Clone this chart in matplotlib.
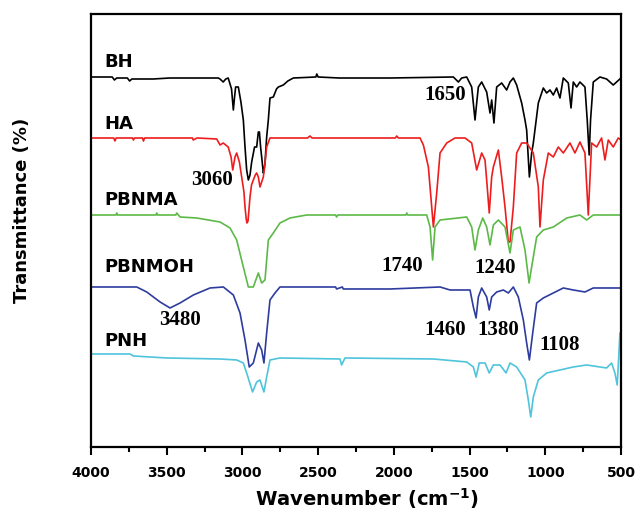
"""FTIR spectra of BH, HA, PBNMA, PBNMOH and PNH, stacked with offsets.

Writes out.png.
"""
import matplotlib
import matplotlib.pyplot as plt
import numpy as np

matplotlib.use("Agg")

# Wavenumber (cm-1) / transmittance (arb. units, stacked) pairs for each spectrum
BH_WN = [4000, 3860, 3845, 3830, 3760, 3745, 3730, 3590, 3480, 3160, 3148, 3127, 3110, 3094,
         3080, 3072, 3060, 3052, 3045, 3027, 3010, 2994, 2983, 2972, 2961, 2950, 2939, 2920,
         2906, 2895, 2888, 2880, 2873, 2862, 2856, 2851, 2840, 2829, 2818, 2796, 2775, 2763,
         2730, 2700, 2664, 2515, 2509, 2500, 2360, 2025, 1607, 1574, 1552, 1519, 1486, 1464,
         1453, 1442, 1420, 1387, 1365, 1354, 1339, 1321, 1288, 1255, 1233, 1211, 1189, 1156,
         1134, 1123, 1105, 1090, 1079, 1046, 1013, 991, 969, 947, 925, 903, 881, 848, 830,
         815, 793, 771, 738, 723, 710, 701, 683, 639, 595, 551, 500]
BH_T = [370, 370, 367, 369, 369, 366, 368, 368, 369, 369, 368, 365, 368, 369,
        362, 358, 337, 350, 360, 360, 345, 327, 300, 277, 267, 272, 285, 300,
        300, 315, 315, 300, 290, 274, 278, 284, 310, 327, 349, 350, 358, 360,
        362, 366, 369, 370, 373, 370, 369, 369, 370, 365, 369, 370, 360, 327,
        344, 360, 365, 355, 334, 347, 324, 360, 364, 357, 365, 369, 362, 344,
        327, 317, 270, 294, 304, 344, 359, 354, 357, 352, 359, 349, 369, 364, 339,
        365, 360, 365, 360, 327, 292, 327, 365, 370, 368, 362, 369]

HA_WN = [4000, 3850, 3842, 3834, 3725, 3720, 3712, 3660, 3654, 3646, 3330, 3325, 3300, 3170,
         3148, 3127, 3094, 3075, 3064, 3049, 3038, 3020, 3005, 2990, 2983, 2975, 2970, 2963,
         2950, 2940, 2928, 2915, 2906, 2895, 2884, 2875, 2862, 2850, 2840, 2818, 2570, 2554,
         2540, 1990, 1981, 1970, 1827, 1805, 1772, 1750, 1739, 1717, 1695, 1651, 1596, 1530,
         1486, 1453, 1420, 1398, 1387, 1370, 1354, 1343, 1310, 1288, 1266, 1244, 1233, 1211,
         1189, 1156, 1123, 1079, 1046, 1035, 1013, 980, 947, 914, 881, 837, 804, 771, 738,
         716, 694, 661, 628, 606, 584, 551, 518, 500]
HA_T = [309, 309, 306, 309, 309, 307, 309, 309, 306, 309, 309, 307, 309, 308,
        302, 304, 300, 290, 277, 290, 294, 285, 270, 255, 240, 228, 224, 226,
        250, 262, 267, 272, 274, 270, 260, 264, 270, 285, 300, 309, 309, 311,
        309, 309, 311, 309, 309, 302, 280, 240, 220, 254, 294, 304, 309, 309,
        304, 277, 294, 287, 267, 234, 270, 280, 297, 270, 240, 205, 205, 240,
        294, 304, 304, 294, 260, 220, 267, 294, 290, 300, 294, 304, 294, 305, 294,
        232, 304, 300, 309, 287, 307, 300, 309, 307]

PBNMA_WN = [4000, 3835, 3830, 3825, 3570, 3566, 3560, 3440, 3434, 3412, 3302, 3148, 3082,
            3038, 2994, 2961, 2928, 2895, 2873, 2851, 2829, 2796, 2752, 2686, 2576, 2385,
            2378, 2370, 1920, 1915, 1908, 1783, 1761, 1744, 1728, 1695, 1519, 1486, 1464,
            1442, 1413, 1387, 1365, 1343, 1310, 1266, 1233, 1211, 1167, 1134, 1107, 1090,
            1057, 1013, 947, 858, 771, 727, 683, 500]
PBNMA_T = [232, 232, 234, 232, 232, 234, 232, 232, 234, 230, 229, 225, 219,
           207, 180, 160, 160, 174, 164, 167, 207, 214, 224, 229, 232, 232,
           230, 232, 232, 234, 232, 232, 220, 187, 220, 227, 230, 220, 197,
           217, 229, 220, 202, 222, 227, 220, 194, 217, 220, 197, 164, 180,
           210, 217, 220, 229, 232, 227, 232, 232]

PBNMOH_WN = [4000, 3698, 3632, 3544, 3478, 3412, 3324, 3214, 3126, 3060, 3016, 2983, 2955,
             2928, 2895, 2873, 2858, 2840, 2818, 2785, 2752, 2385, 2378, 2340, 2334, 2025,
             1695, 1629, 1497, 1475, 1457, 1442, 1420, 1387, 1370, 1354, 1321, 1277, 1244,
             1211, 1178, 1145, 1123, 1105, 1083, 1057, 1013, 947, 881, 815, 738, 683, 500]
PBNMOH_T = [160, 160, 155, 145, 139, 144, 152, 159, 160, 152, 134, 107, 80,
            84, 104, 97, 84, 114, 147, 154, 160, 160, 158, 160, 158, 158,
            160, 157, 157, 140, 129, 150, 159, 150, 137, 150, 155, 157, 154,
            160, 150, 127, 104, 87, 114, 144, 149, 154, 159, 157, 155, 159, 159]

PNH_WN = [4000, 3742, 3720, 3500, 3148, 3038, 2994, 2972, 2933, 2906, 2884, 2858, 2840,
          2818, 2752, 2356, 2345, 2323, 1739, 1519, 1475, 1457, 1436, 1398, 1370, 1343,
          1299, 1259, 1233, 1189, 1134, 1112, 1096, 1079, 1046, 991, 903, 815, 727, 639,
          595, 562, 540, 525, 516, 507, 502]
PNH_T = [93, 93, 91, 89, 88, 87, 84, 74, 55, 65, 67, 55, 70,
         87, 89, 88, 82, 89, 88, 85, 80, 70, 84, 84, 74, 82,
         82, 74, 84, 80, 67, 47, 30, 50, 67, 74, 77, 80, 82, 80,
         79, 84, 74, 62, 87, 114, 114]

SERIES = [
    ("BH", BH_WN, BH_T, "black"),
    ("HA", HA_WN, HA_T, "#ee1d1d"),
    ("PBNMA", PBNMA_WN, PBNMA_T, "#5cb947"),
    ("PBNMOH", PBNMOH_WN, PBNMOH_T, "#2d3c9e"),
    ("PNH", PNH_WN, PNH_T, "#4fc4db"),
]

# Name tags: (text, y position)
NAME_Y = [385, 323, 247, 180, 106]

# Band assignments: (text, wavenumber, y position)
BAND_TEXT = ["3060", "3480", "1650", "1740", "1240", "1460", "1380", "1108"]
BAND_WN = [3201, 3412, 1662, 1946, 1332, 1662, 1312, 903]
BAND_Y = [267, 127, 352, 181, 179, 117, 117, 102]

X_MAJOR = np.arange(500, 4001, 500)


def main() -> None:
    fig = plt.figure(figsize=(6.4, 5.13), dpi=100)
    ax = fig.add_axes([0.1422, 0.1287, 0.8281, 0.844])

    for name, wn, t, color in SERIES:
        ax.plot(wn, t, color=color, linewidth=1.2, drawstyle="default")

    for (name, _, _, _), y in zip(SERIES, NAME_Y):
        ax.text(3910, y, name, ha="left", va="center", fontsize=13,
                fontweight="bold", family="DejaVu Sans")

    for txt, wn, y in zip(BAND_TEXT, BAND_WN, BAND_Y):
        ax.text(wn, y, txt, ha="center", va="center", fontsize=15,
                fontweight="bold", family="Liberation Serif")

    ax.set_xlim(4000, 500)
    ax.set_ylim(0, 433)
    ax.set_xticks(X_MAJOR)
    ax.set_xticks(np.arange(750, 4000, 500), minor=True)
    ax.set_yticks([])
    ax.tick_params(axis="x", which="major", direction="out", length=6, width=1.5,
                   labelsize=10, pad=8)
    ax.tick_params(axis="x", which="minor", direction="out", length=3.5, width=1.5)
    for lab in ax.get_xticklabels():
        lab.set_fontweight("bold")
    for spine in ax.spines.values():
        spine.set_linewidth(1.6)

    ax.set_xlabel("Wavenumber (cm$^{\\mathbf{-1}}$)", fontsize=14, fontweight="bold")
    ax.xaxis.set_label_coords(0.521, -0.12)
    ax.xaxis.label.set_va("center")
    ax.set_ylabel("Transmittance (%)", fontsize=13, fontweight="bold")
    ax.yaxis.set_label_coords(-0.13, 0.547)
    ax.yaxis.label.set_va("center")

    fig.savefig("out.png", dpi=100)
    plt.close(fig)


if __name__ == "__main__":
    main()
